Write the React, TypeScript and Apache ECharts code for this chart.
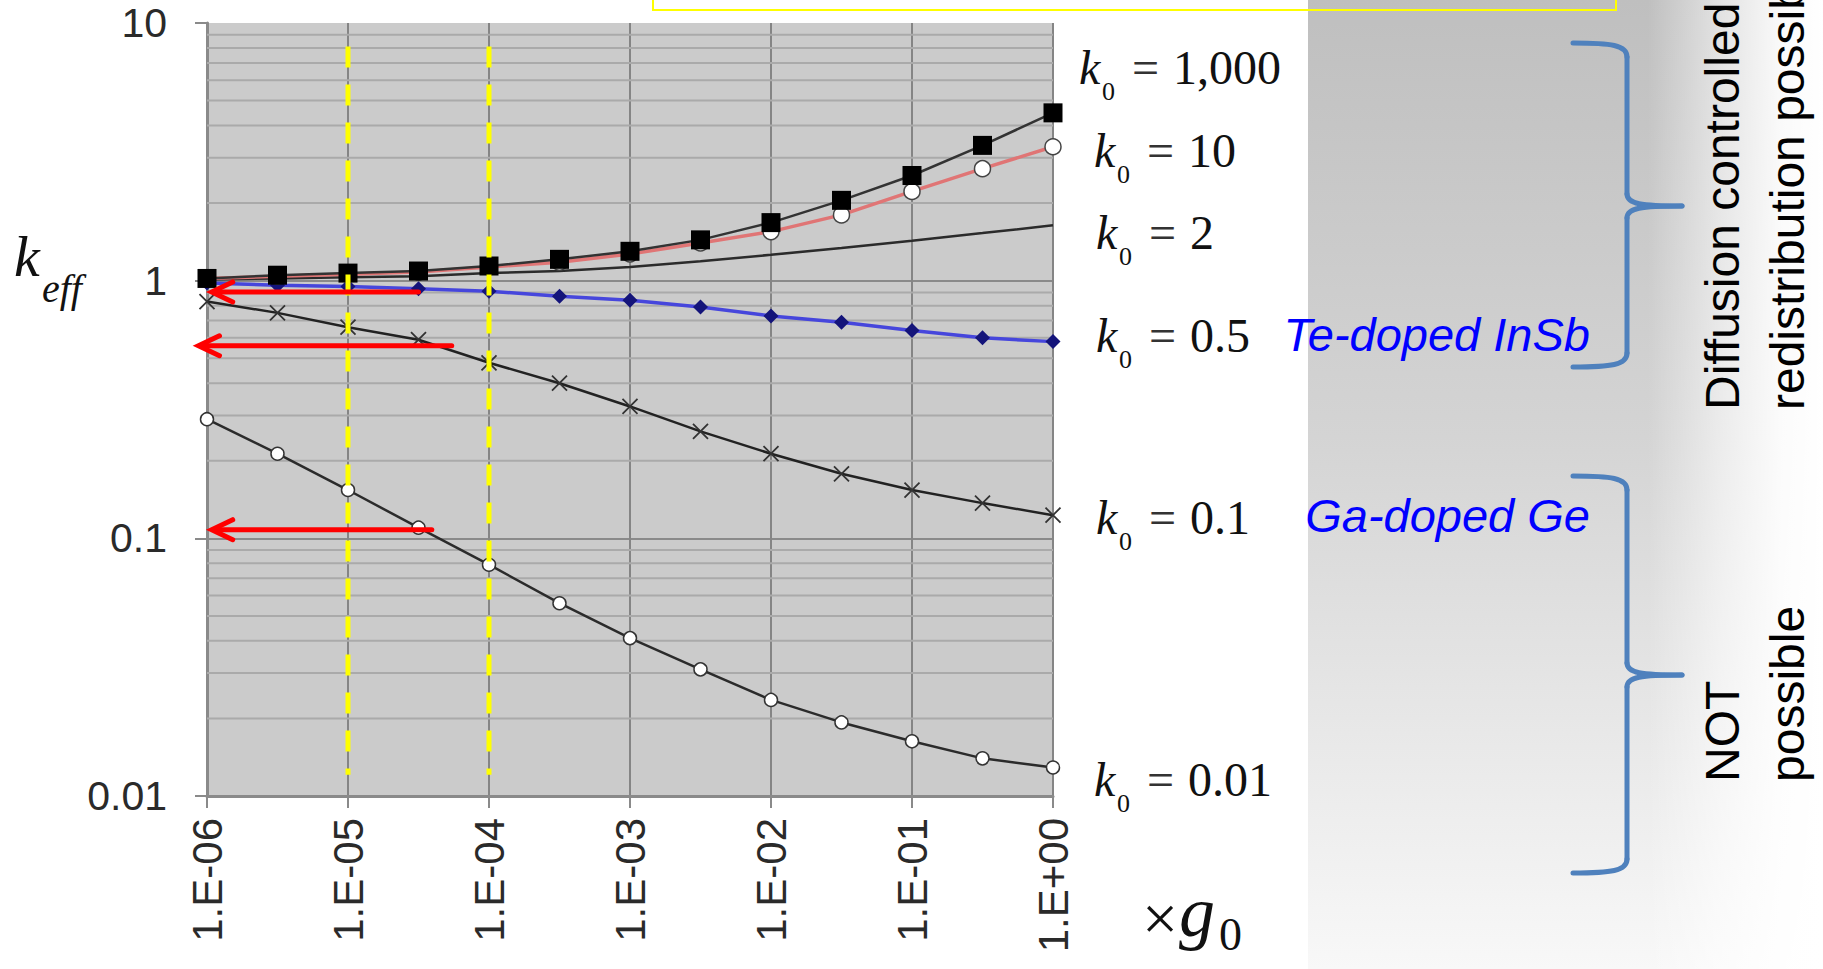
import React, { useEffect, useRef } from "react";
import * as echarts from "echarts";

// ---- data ----
const xValues = [1e-6, 3.162e-6, 1e-5, 3.162e-5, 1e-4, 3.162e-4, 1e-3, 3.162e-3, 1e-2, 3.162e-2, 1e-1, 3.162e-1, 1];
const k1000Values = [1.02, 1.05, 1.07, 1.09, 1.14, 1.21, 1.3, 1.44, 1.68, 2.05, 2.56, 3.35, 4.48];
const k10Values = [1.02, 1.04, 1.06, 1.08, 1.13, 1.18, 1.27, 1.4, 1.55, 1.8, 2.22, 2.72, 3.31];
const k2Values = [1.01, 1.02, 1.03, 1.04, 1.07, 1.09, 1.13, 1.19, 1.26, 1.34, 1.43, 1.53, 1.64];
const k05Values = [0.98, 0.96, 0.95, 0.93, 0.91, 0.87, 0.84, 0.79, 0.73, 0.69, 0.64, 0.6, 0.58];
const k01Values = [0.83, 0.75, 0.66, 0.59, 0.48, 0.4, 0.325, 0.26, 0.213, 0.178, 0.154, 0.137, 0.123];
const k001Values = [0.29, 0.213, 0.154, 0.11, 0.079, 0.056, 0.041, 0.031, 0.0236, 0.0193, 0.0163, 0.014, 0.0129];

const xTickLabels = ["1.E-06", "1.E-05", "1.E-04", "1.E-03", "1.E-02", "1.E-01", "1.E+00"];
const yTickLabels = ["0.01", "0.1", "1", "10"];
const minorGridValues = [
  0.02, 0.03, 0.04, 0.05, 0.06, 0.07, 0.08, 0.09,
  0.2, 0.3, 0.4, 0.5, 0.6, 0.7, 0.8, 0.9,
  2, 3, 4, 5, 6, 7, 8, 9,
];
const yellowLineX = [1e-5, 1e-4];
const yellowLineTop = [8.1, 8.1];
const yellowLineBottom = [0.0121, 0.0121];
const arrowStartX = [3.16e-5, 5.44e-5, 3.93e-5];
const arrowEndX = [1.08e-6, 8.7e-7, 1.08e-6];
const arrowY = [0.904, 0.559, 0.108];
const curveLabelValues = ["1,000", "10", "2", "0.5", "0.1", "0.01"];

// ---- layout (pixels) ----
const curveLabelPos = [
  { x: 1079, y: 67 },
  { x: 1094, y: 150 },
  { x: 1096, y: 232 },
  { x: 1096, y: 335 },
  { x: 1096, y: 517 },
  { x: 1094, y: 779 },
];

const SERIF = '"Liberation Serif", "Times New Roman", serif';
const SANS = '"Liberation Sans", Arial, sans-serif';

function pairs(vals: number[]) {
  return xValues.map((x, i) => [x, vals[i]]);
}

function txt(x: number, y: number, text: string, font: string, fill: string, align: string, extra: any = {}) {
  return {
    type: "text",
    x,
    y,
    ...extra,
    style: { text, font, fill, align, verticalAlign: "middle", textAlign: align, textVerticalAlign: "middle" },
  };
}

function brace(top: number, mid: number, bot: number) {
  const x0 = 1573, xv = 1627, xt = 1682;
  const st = { stroke: "#4f81bd", lineWidth: 5, fill: null, lineCap: "round" };
  return [
    { type: "bezierCurve", shape: { x1: x0, y1: top, cpx1: x0 + 38, cpy1: top, cpx2: xv, cpy2: top + 2, x2: xv, y2: top + 14 }, style: st },
    { type: "line", shape: { x1: xv, y1: top + 14, x2: xv, y2: mid - 12 }, style: st },
    { type: "bezierCurve", shape: { x1: xv, y1: mid - 12, cpx1: xv, cpy1: mid - 2, cpx2: xv + 14, cpy2: mid, x2: xt, y2: mid }, style: st },
    { type: "bezierCurve", shape: { x1: xt, y1: mid, cpx1: xv + 14, cpy1: mid, cpx2: xv, cpy2: mid + 2, x2: xv, y2: mid + 12 }, style: st },
    { type: "line", shape: { x1: xv, y1: mid + 12, x2: xv, y2: bot - 14 }, style: st },
    { type: "bezierCurve", shape: { x1: xv, y1: bot - 14, cpx1: xv, cpy1: bot - 2, cpx2: x0 + 38, cpy2: bot, x2: x0, y2: bot }, style: st },
  ];
}

export default function App() {
  const ref = useRef<HTMLDivElement>(null);

  useEffect(() => {
    const chart = echarts.init(ref.current!, null, { renderer: "svg" });

    const graphics: any[] = [];
    // right-hand panel with gradient
    graphics.push({
      type: "rect",
      shape: { x: 1308, y: 0, width: 515, height: 969 },
      style: {
        fill: new echarts.graphic.LinearGradient(0, 0, 0, 1, [
          { offset: 0, color: "#bfbfbf" },
          { offset: 0.45, color: "#d4d4d4" },
          { offset: 1, color: "#f8f8f8" },
        ]),
      },
      z: -10,
    });
    graphics.push({
      type: "rect",
      shape: { x: 1308, y: 0, width: 515, height: 969 },
      style: {
        fill: new echarts.graphic.LinearGradient(0, 0, 1, 0, [
          { offset: 0, color: "rgba(255,255,255,0)" },
          { offset: 0.66, color: "rgba(255,255,255,0)" },
          { offset: 0.8, color: "rgba(255,255,255,0.55)" },
          { offset: 0.92, color: "rgba(255,255,255,0.92)" },
          { offset: 1, color: "rgba(255,255,255,1)" },
        ]),
      },
      z: -9,
    });
    // yellow box outline (top part cut off)
    graphics.push({
      type: "rect",
      shape: { x: 653, y: -20, width: 963, height: 30 },
      style: { fill: null, stroke: "#ffff00", lineWidth: 2 },
      z: 5,
    });
    // braces
    brace(43, 206, 367).forEach((e) => graphics.push({ ...e, z: 5 }));
    brace(476, 675, 873).forEach((e) => graphics.push({ ...e, z: 5 }));

    // axis titles
    graphics.push(txt(14, 256, "k", `italic 58px ${SERIF}`, "#111", "left"));
    graphics.push(txt(42, 288, "eff", `italic 40px ${SERIF}`, "#111", "left"));
    graphics.push(txt(1160, 918, "×", `64px ${SERIF}`, "#111", "center"));
    graphics.push(txt(1179, 912, "g", `italic 72px ${SERIF}`, "#111", "left"));
    graphics.push(txt(1219, 934, "0", `46px ${SERIF}`, "#111", "left"));

    // curve labels
    curveLabelValues.forEach((v, i) => {
      const p = curveLabelPos[i];
      graphics.push(txt(p.x, p.y, "k", `italic 48px ${SERIF}`, "#111", "left"));
      graphics.push(txt(p.x + 23, p.y + 24, "0", `26px ${SERIF}`, "#111", "left"));
      graphics.push(txt(p.x + 53, p.y, "=", `48px ${SERIF}`, "#333", "left"));
      graphics.push(txt(p.x + 94, p.y, v, `48px ${SERIF}`, "#111", "left"));
    });

    // material labels
    graphics.push(txt(1590, 334, "Te-doped InSb", `italic 47px ${SANS}`, "#0000ff", "right", { z: 6 }));
    graphics.push(txt(1590, 515, "Ga-doped Ge", `italic 47px ${SANS}`, "#0000ff", "right", { z: 6 }));

    // vertical annotations (the second line is cut off at the page edge, as in the reference)
    const rot = { rotation: Math.PI / 2, z: 6 };
    graphics.push(txt(1722, 410, "Diffusion controlled", `48px ${SANS}`, "#000", "left", rot));
    graphics.push(txt(1787, 410, "redistribution possible", `48px ${SANS}`, "#000", "left", rot));
    graphics.push(txt(1722, 782, "NOT", `48px ${SANS}`, "#000", "left", rot));
    graphics.push(txt(1787, 782, "possible", `48px ${SANS}`, "#000", "left", rot));

    const option: any = {
      animation: false,
      backgroundColor: "#ffffff",
      grid: {
        left: 207,
        right: 770,
        top: 23,
        bottom: 173,
        show: true,
        backgroundColor: "#cbcbcb",
        borderWidth: 0,
        borderColor: "transparent",
      },
      xAxis: {
        type: "log",
        logBase: 10,
        min: 1e-6,
        max: 1,
        splitNumber: 6,
        axisLine: { show: true, lineStyle: { color: "#8a8a8a", width: 3 } },
        axisTick: { show: true, length: 12, lineStyle: { color: "#8a8a8a", width: 2 } },
        splitLine: { show: true, lineStyle: { color: "#858585", width: 2 } },
        minorTick: { show: false },
        axisLabel: {
          rotate: 90,
          margin: 22,
          fontSize: 42,
          fontFamily: SANS,
          color: "#2a2a2a",
          formatter: (v: number) => xTickLabels[Math.round(Math.log10(v)) + 6] ?? "",
        },
      },
      yAxis: {
        type: "log",
        logBase: 10,
        min: 0.01,
        max: 10,
        splitNumber: 3,
        axisLine: { show: true, lineStyle: { color: "#8a8a8a", width: 3 } },
        axisTick: { show: true, length: 12, lineStyle: { color: "#8a8a8a", width: 2 } },
        splitLine: { show: true, showMaxLine: false, lineStyle: { color: "#8a8a8a", width: 2 } },
        axisLabel: {
          margin: 40,
          fontSize: 41,
          fontFamily: SANS,
          color: "#2a2a2a",
          formatter: (v: number) => yTickLabels[Math.round(Math.log10(v)) + 2] ?? "",
        },
      },
      graphic: graphics,
      series: [
        {
          type: "custom",
          name: "minorGrid",
          silent: true,
          z: 1,
          clip: false,
          encode: { x: 0, y: 1 },
          data: minorGridValues.map((v) => [1e-6, v]),
          renderItem: (params: any, api: any) => {
            const v = api.value(1);
            const p1 = api.coord([1e-6, v]);
            const p2 = api.coord([1, v]);
            return {
              type: "line",
              shape: { x1: p1[0], y1: p1[1], x2: p2[0], y2: p2[1] },
              style: { stroke: "#aaaaaa", lineWidth: 2 },
            };
          },
        },
        {
          type: "line",
          name: "k0=2",
          data: pairs(k2Values),
          symbol: "none",
          lineStyle: { color: "#2b2b2b", width: 2.5 },
          z: 3,
        },
        {
          type: "line",
          name: "k0=0.01",
          data: pairs(k001Values),
          symbol: "circle",
          symbolSize: 13,
          itemStyle: { color: "#ffffff", borderColor: "#333333", borderWidth: 1.5 },
          lineStyle: { color: "#2b2b2b", width: 2.5 },
          z: 3,
        },
        {
          type: "line",
          name: "k0=0.1",
          data: pairs(k01Values),
          symbol: "path://M0,0L10,10M10,0L0,10",
          symbolSize: 15,
          itemStyle: { color: "rgba(0,0,0,0)", borderColor: "#333333", borderWidth: 1.8 },
          lineStyle: { color: "#222222", width: 2.5 },
          z: 3,
        },
        {
          type: "line",
          name: "k0=0.5",
          data: pairs(k05Values),
          symbol: "diamond",
          symbolSize: 15,
          itemStyle: { color: "#14147a" },
          lineStyle: { color: "#4646dc", width: 3.5 },
          z: 4,
        },
        {
          type: "line",
          name: "k0=10",
          data: pairs(k10Values),
          symbol: "circle",
          symbolSize: 16,
          itemStyle: { color: "#ffffff", borderColor: "#444444", borderWidth: 1.5 },
          lineStyle: { color: "#e07575", width: 3.5 },
          z: 4,
        },
        {
          type: "line",
          name: "k0=1000",
          data: pairs(k1000Values),
          symbol: "rect",
          symbolSize: 19,
          itemStyle: { color: "#000000" },
          lineStyle: { color: "#333333", width: 2.5 },
          z: 5,
        },
        {
          type: "custom",
          name: "yellowLines",
          silent: true,
          z: 8,
          clip: false,
          encode: { x: 0, y: [1, 2] },
          data: yellowLineX.map((x, i) => [x, yellowLineTop[i], yellowLineBottom[i]]),
          renderItem: (params: any, api: any) => {
            const p1 = api.coord([api.value(0), api.value(1)]);
            const p2 = api.coord([api.value(0), api.value(2)]);
            return {
              type: "line",
              shape: { x1: p1[0], y1: p1[1], x2: p2[0], y2: p2[1] },
              style: { stroke: "#ffff00", lineWidth: 5, lineDash: [21, 17] },
            };
          },
        },
        {
          type: "custom",
          name: "arrows",
          silent: true,
          z: 9,
          clip: false,
          encode: { x: [0, 1], y: 2 },
          data: arrowStartX.map((x, i) => [x, arrowEndX[i], arrowY[i]]),
          renderItem: (params: any, api: any) => {
            const y = api.value(2);
            const p1 = api.coord([api.value(0), y]);
            const p2 = api.coord([api.value(1), y]);
            const st = { stroke: "#ff0000", lineWidth: 5, lineCap: "round", lineJoin: "miter", fill: null };
            return {
              type: "group",
              children: [
                { type: "line", shape: { x1: p1[0], y1: p1[1], x2: p2[0] + 3, y2: p2[1] }, style: st },
                {
                  type: "polyline",
                  shape: { points: [[p2[0] + 21, p2[1] - 10], [p2[0], p2[1]], [p2[0] + 21, p2[1] + 10]] },
                  style: st,
                },
              ],
            };
          },
        },
      ],
    };

    chart.setOption(option);
    return () => chart.dispose();
  }, []);

  return (
    <div
      ref={ref}
      style={{ position: "fixed", left: 0, top: 0, width: 1823, height: 969, background: "#ffffff" }}
    />
  );
}
